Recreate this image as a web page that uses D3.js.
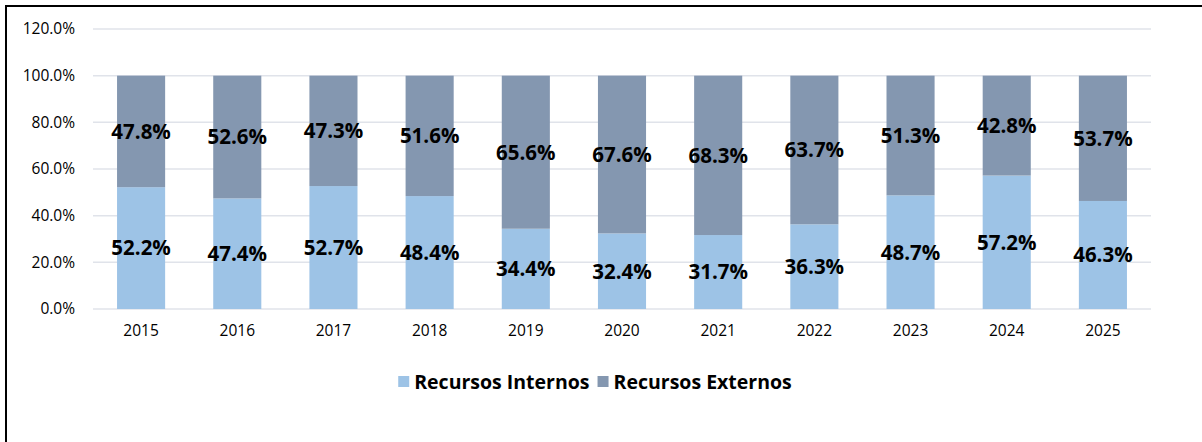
<!DOCTYPE html>
<html>
<head>
<meta charset="utf-8">
<script src="https://cdn.jsdelivr.net/npm/d3@7"></script>
<style>
  body { margin: 0; background: #fff; }
  svg { display: block; font-family: "Open Sans", sans-serif; }
</style>
</head>
<body>
<div id="chart"></div>
<script>
// data
var years = ["2015","2016","2017","2018","2019","2020","2021","2022","2023","2024","2025"];
var internos = [52.2, 47.4, 52.7, 48.4, 34.4, 32.4, 31.7, 36.3, 48.7, 57.2, 46.3];
var externos = [47.8, 52.6, 47.3, 51.6, 65.6, 67.6, 68.3, 63.7, 51.3, 42.8, 53.7];
var yTicks = [0, 20, 40, 60, 80, 100, 120];
var seriesNames = ["Recursos Internos", "Recursos Externos"];
var colors = ["#9dc3e6", "#8497b0"];

var W = 1202, H = 442;
var margin = {top: 29, right: 51, bottom: 133, left: 93},
    width = W - margin.left - margin.right,
    height = H - margin.top - margin.bottom;

var svg = d3.select("#chart").append("svg")
    .attr("width", W)
    .attr("height", H);

// frame (cropped on right/bottom in the original)
svg.append("path")
    .attr("d", "M6," + H + "V6H" + W)
    .attr("fill", "none")
    .attr("stroke", "#000")
    .attr("stroke-width", 2);

var g = svg.append("g")
    .attr("transform", "translate(" + margin.left + "," + margin.top + ")");

var x = d3.scaleBand().domain(years).range([0, width]).paddingInner(0.5).paddingOuter(0.25);
var y = d3.scaleLinear().domain([0, 120]).range([height, 0]);

// gridlines
g.selectAll(".grid").data(yTicks).enter().append("line")
    .attr("class", "grid")
    .attr("x1", 0).attr("x2", width)
    .attr("y1", function(d){ return y(d); })
    .attr("y2", function(d){ return y(d); })
    .attr("stroke", "#e0e3ea")
    .attr("stroke-width", 1.5);

var yAxis = d3.axisLeft(y).tickValues(yTicks).tickSize(0).tickPadding(18)
    .tickFormat(function(d){ return d.toFixed(1) + "%"; });
g.append("g").call(yAxis)
    .call(function(s){ s.select(".domain").remove(); })
    .selectAll("text").attr("font-size", 15.5).attr("fill", "#000")
    .attr("font-family", "'Open Sans', sans-serif");

var xAxis = d3.axisBottom(x).tickSize(0).tickPadding(16);
g.append("g").attr("transform", "translate(0," + height + ")").call(xAxis)
    .call(function(s){ s.select(".domain").remove(); })
    .selectAll("text").attr("font-size", 15.5).attr("fill", "#000")
    .attr("font-family", "'Open Sans', sans-serif");

var rows = years.map(function(yr, i){ return {year: yr, a: internos[i], b: externos[i]}; });

// internal segments
g.selectAll(".barA").data(rows).enter().append("rect")
    .attr("x", function(d){ return x(d.year); })
    .attr("width", x.bandwidth())
    .attr("y", function(d){ return y(d.a); })
    .attr("height", function(d){ return y(0) - y(d.a); })
    .attr("fill", colors[0]);

// external segments, stacked on top
g.selectAll(".barB").data(rows).enter().append("rect")
    .attr("x", function(d){ return x(d.year); })
    .attr("width", x.bandwidth())
    .attr("y", function(d){ return y(d.a + d.b); })
    .attr("height", function(d){ return y(d.a) - y(d.a + d.b); })
    .attr("fill", colors[1]);

// value labels
function addLabels(cls, val, mid){
  g.selectAll("." + cls).data(rows).enter().append("text")
      .attr("x", function(d){ return x(d.year) + x.bandwidth() / 2; })
      .attr("y", function(d){ return y(mid(d)); })
      .attr("dy", "0.36em")
      .attr("text-anchor", "middle")
      .attr("font-size", 20.5)
      .attr("font-weight", "bold")
      .attr("fill", "#000")
      .text(function(d){ return val(d).toFixed(1) + "%"; });
}
addLabels("labA", function(d){ return d.a; }, function(d){ return d.a / 2; });
addLabels("labB", function(d){ return d.b; }, function(d){ return d.a + d.b / 2; });

// legend
var legend = svg.append("g").attr("transform", "translate(0,382)");
var items = legend.selectAll(".item").data(seriesNames).enter().append("g");
items.append("rect").attr("width", 11).attr("height", 11).attr("y", -6)
    .attr("fill", function(d, i){ return colors[i]; });
items.append("text").attr("x", 16).attr("dy", "0.36em")
    .attr("font-size", 19.5).attr("font-weight", "bold").text(function(d){ return d; });
var xs = 0, offs = [];
items.each(function(){ offs.push(xs); xs += this.getBBox().width + 8; });
xs -= 8;
var start = (W - xs) / 2 - 6;
items.attr("transform", function(d, i){ return "translate(" + (start + offs[i]) + ",0)"; });
</script>
</body>
</html>
